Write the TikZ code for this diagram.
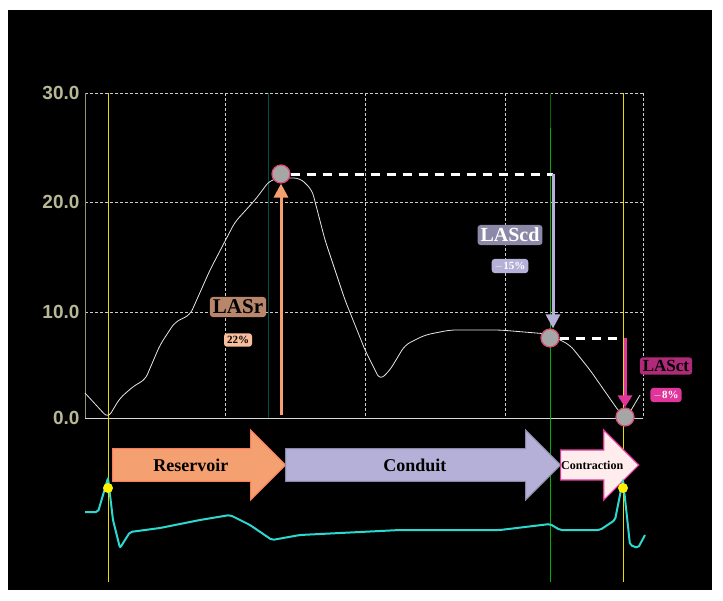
\documentclass[tikz,border=0pt]{standalone}
\usepackage{tikz}
\usepackage{fontspec}
\setmainfont{Liberation Serif}
\setsansfont{Liberation Sans}
\usetikzlibrary{shapes.arrows,arrows.meta}
\definecolor{axistan}{HTML}{B8B896}
\definecolor{lasr}{HTML}{F5A070}
\definecolor{lasrdark}{HTML}{B8866A}
\definecolor{lascd}{HTML}{B4B0D8}
\definecolor{lascddark}{HTML}{8C88A8}
\definecolor{lasct}{HTML}{E0359A}
\definecolor{lasctdark}{HTML}{B02A7A}
\definecolor{ecg}{HTML}{2CD8D0}
\tikzset{
  grid/.style={white!80!black,densely dashed,thin},
  marker/.style={circle,minimum size=18pt,inner sep=0pt,fill=gray!70,draw=purple!60!pink,line width=1.2pt},
  tag/.style={rounded corners=3pt,inner sep=3pt,font=\bfseries},
  phase/.style={single arrow,single arrow head extend=17pt,minimum height=#1,minimum width=70pt,
    inner xsep=0pt,inner ysep=8pt,anchor=west,font=\bfseries\fontsize{18}{20}\selectfont,line width=1.2pt}
}
\begin{document}
\begin{tikzpicture}[x=1pt,y=-1pt]
\useasboundingbox (0,0) rectangle (723,600);
\fill[white] (0,0) rectangle (723,600);
\fill[black] (8,10) rectangle (712,590);
% grid
\foreach \yy in {202,312} \draw[grid] (85,\yy) -- (643,\yy);
\draw[grid] (85,93) -- (643,93);
\foreach \xx in {225,365,505,643} \draw[grid] (\xx,93) -- (\xx,418);
\draw[white!85!black,thick] (85,418) -- (643,418);
\draw[axistan!80!black] (85,93) -- (85,418);
\foreach \yy/\lab in {93/30.0,202/20.0,312/10.0,418/0.0}
  \node[text=axistan,font=\sffamily\bfseries\fontsize{19}{21}\selectfont,anchor=east] at (83,\yy) {\lab};
% time markers
\draw[yellow!80!olive,thick] (108,93) -- (108,582);
\draw[yellow!80!olive,thick] (623,93) -- (623,582);
\draw[teal!60!black,thick] (268,93) -- (268,418);
\draw[green!40!black,thick] (550,93) -- (550,128);
\draw[green!70!black,thick] (550,128) -- (550,582);
% strain curve
\draw[white!90!black,thick,rounded corners=6pt] (85,393) -- (108,418) -- (120,398) -- (135,385) -- (145,380)
  -- (160,345) -- (175,322) -- (190,315) -- (210,270) -- (235,222) -- (255,200) -- (270,180)
  -- (282,178) -- (300,178) -- (312,190) -- (325,240) -- (345,300) -- (365,350) -- (380,380)
  -- (390,370) -- (405,345) -- (425,335) -- (450,330) -- (500,330) -- (548,334) -- (570,345)
  -- (590,370) -- (620,413) -- (627,417) -- (640,395);
% peaks
\node[marker] (pr) at (281,174) {};
\node[marker] (pcd) at (550,338) {};
\node[marker] (pct) at (625,417) {};
\coordinate (cdtop) at (553,174);
\coordinate (rbase) at (281,415);
\coordinate (cttop) at (625,338);
\draw[white,line width=3pt,dash pattern=on 9pt off 7pt] (pr.east) -- (cdtop);
\draw[white,line width=3pt,dash pattern=on 9pt off 7pt] (pcd.east) -- (618,338);
\draw[lasr,line width=3pt,-{Triangle[length=14pt,width=14pt]}] (rbase) -- (pr.south);
\draw[lascd,line width=3pt,-{Triangle[length=14pt,width=14pt]}] (cdtop) -- (cdtop |- pcd.north);
\draw[lasct,line width=3pt,-{Triangle[length=12pt,width=14pt]}] (cttop) -- (pct.north);
% labels
\node[tag,fill=lasrdark,font=\bfseries\fontsize{21}{23}\selectfont] (lasr) at (238,307) {LASr};
\node[tag,fill=lasr!70!white,font=\bfseries\fontsize{11}{12}\selectfont] (vr) at (238,340) {22\%};
\node[tag,fill=lascddark,text=white,font=\bfseries\fontsize{20}{22}\selectfont] (lascd) at (510,235) {LAScd};
\node[tag,fill=lascd,text=white,font=\bfseries\fontsize{11}{12}\selectfont] (vcd) at (510,266) {$-$15\%};
\node[tag,fill=lasctdark,font=\bfseries\fontsize{17}{19}\selectfont] (lasct) at (666,366) {LASct};
\node[tag,fill=lasct,text=white,font=\bfseries\fontsize{11}{12}\selectfont] (vct) at (666,395) {$-$8\%};
% phases
\node[phase=173pt,fill=lasr,draw=lasr!80!red] (res) at (112,465) {Reservoir\hspace{40pt}};
\node[phase=275pt,fill=lascd,draw=lascddark] (con) at (285,465) {Conduit\hspace{30pt}};
\node[phase=78pt,fill=pink!30,draw=lasct,font=\bfseries\fontsize{12}{14}\selectfont] (ctr) at (560,465) {Contraction\hspace{6pt}};
% ECG
\draw[ecg,line width=2pt,rounded corners=2pt] (85,512) -- (98,512) -- (108,478) -- (113,520) -- (120,548)
  -- (130,532) -- (160,528) -- (200,520) -- (230,515) -- (250,525) -- (272,540) -- (300,535)
  -- (400,530) -- (500,530) -- (550,524) -- (560,530) -- (600,530) -- (615,520) -- (623,480)
  -- (630,545) -- (638,548) -- (645,535);
\fill[yellow] (108,488) circle (5pt);
\fill[yellow] (623,488) circle (5pt);
\end{tikzpicture}
\end{document}
